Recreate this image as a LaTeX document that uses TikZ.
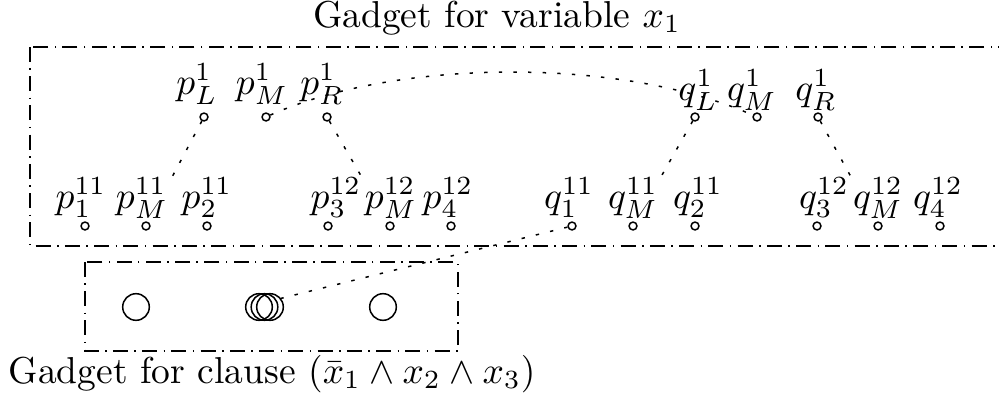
\documentclass[tikz,border=0pt]{standalone}
\begin{document}
\begin{tikzpicture}[x=0.2667pt,y=-0.2667pt,
  vdot/.style={circle,draw,inner sep=0pt,minimum size=2.1pt},
  cdot/.style={circle,draw,inner sep=0pt,minimum size=7.1pt},
  lab/.style={anchor=base,inner sep=0pt},
  gbox/.style={draw,dash pattern=on 4pt off 1.7pt on 0.4pt off 1.7pt},
  link/.style={dash pattern=on 0.9pt off 3pt},
  drop/.style={link,shorten >=13.8pt}]
\clip (0,0) rectangle (999,402);
% titles
\node[lab] (t1) at (497,27) {Gadget for variable $x_1$};
\node[anchor=base west,inner sep=0pt] (t2) at (8,383) {Gadget for clause $(\bar{x}_1\wedge x_2\wedge x_3)$};
% boxes
\draw[gbox] (30,47) rectangle (1010,246);
\draw[gbox] (85,262) rectangle (458,351);
% top row circles
\node[vdot] (pL) at (204,117) {};
\node[vdot] (pM) at (266,117) {};
\node[vdot] (pR) at (327,117) {};
\node[vdot] (qL) at (695,117) {};
\node[vdot] (qM) at (757,117) {};
\node[vdot] (qR) at (818,117) {};
% bottom row circles
\node[vdot] (p111) at (85,226) {};
\node[vdot] (p11M) at (146,226) {};
\node[vdot] (p112) at (207,226) {};
\node[vdot] (p123) at (328,226) {};
\node[vdot] (p12M) at (390,226) {};
\node[vdot] (p124) at (451,226) {};
\node[vdot] (q111) at (572,226) {};
\node[vdot] (q11M) at (633,226) {};
\node[vdot] (q112) at (695,226) {};
\node[vdot] (q123) at (817,226) {};
\node[vdot] (q12M) at (878,226) {};
\node[vdot] (q124) at (940,226) {};
% top labels
\node[lab] (lpL) at (197,94) {$p_L^1$};
\node[lab] (lpM) at (262,94) {$p_M^1$};
\node[lab] (lpR) at (322,94) {$p_R^1$};
\node[lab] (lqL) at (698,100) {$q_L^1$};
\node[lab] (lqM) at (752,100) {$q_M^1$};
\node[lab] (lqR) at (816,100) {$q_R^1$};
% bottom labels
\node[lab] (lp111) at (81,208) {$p_1^{11}$};
\node[lab] (lp11M) at (142,208) {$p_M^{11}$};
\node[lab] (lp112) at (207,208) {$p_2^{11}$};
\node[lab] (lp123) at (336,208) {$p_3^{12}$};
\node[lab] (lp12M) at (391,208) {$p_M^{12}$};
\node[lab] (lp124) at (448,208) {$p_4^{12}$};
\node[lab] (lq111) at (569,208) {$q_1^{11}$};
\node[lab] (lq11M) at (633,208) {$q_M^{11}$};
\node[lab] (lq112) at (698,208) {$q_2^{11}$};
\node[lab] (lq123) at (824,208) {$q_3^{12}$};
\node[lab] (lq12M) at (878,208) {$q_M^{12}$};
\node[lab] (lq124) at (938,208) {$q_4^{12}$};
% clause circles
\node[cdot] (c1) at (136,307) {};
\node[cdot] (c2a) at (259,307) {};
\node[cdot] (c2b) at (264.5,307) {};
\node[cdot] (c2c) at (270,307) {};
\node[cdot] (c3) at (383,307) {};
% connectors
\draw[drop] (pL) -- (p11M);
\draw[drop] (pR) -- (p12M);
\draw[drop] (qL) -- (q11M);
\draw[drop] (qR) -- (q12M);
\draw[link] (pM) to[out=24,in=156,looseness=0.75] (qM);
\draw[link] (q111) -- (c2c.38);
\end{tikzpicture}
\end{document}
